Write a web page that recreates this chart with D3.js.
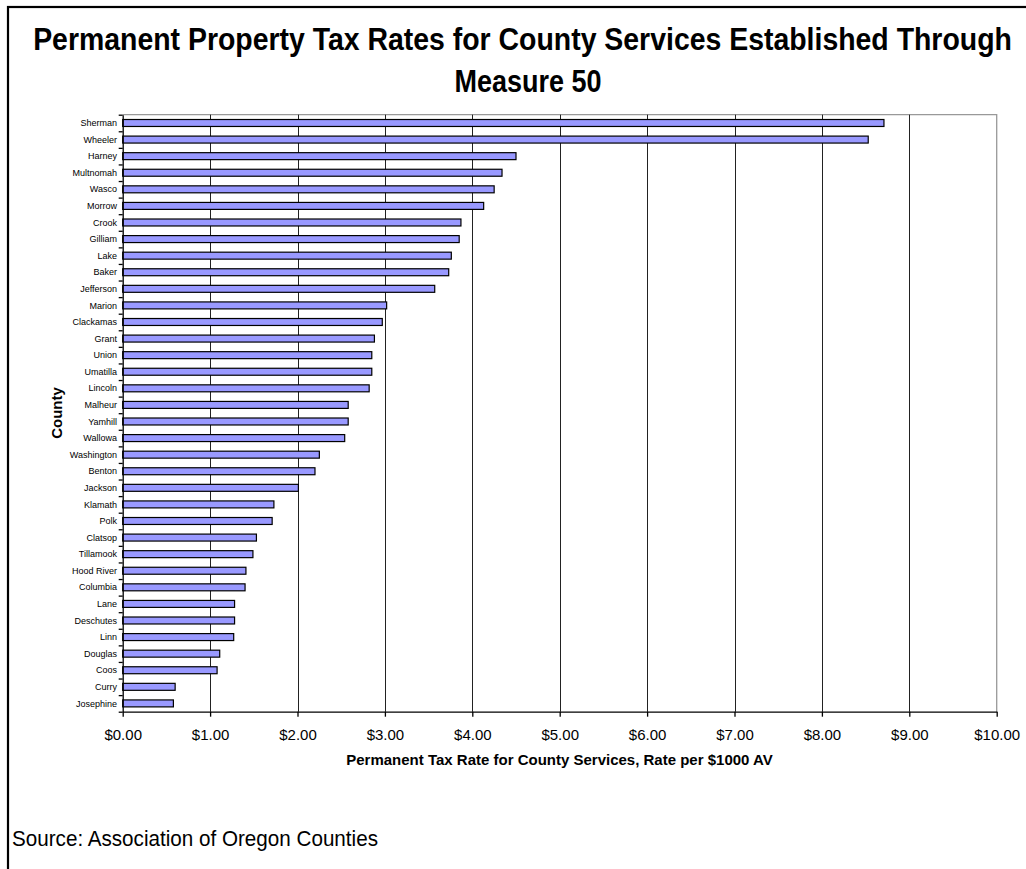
<!DOCTYPE html>
<html>
<head>
<meta charset="utf-8">
<script src="https://cdn.jsdelivr.net/npm/d3@7/dist/d3.min.js"></script>
<style>
  html, body { margin: 0; padding: 0; background: #fff; }
  svg { display: block; }
</style>
</head>
<body>
<svg id="chart" width="1026" height="869"></svg>
<script>
const counties = ["Sherman","Wheeler","Harney","Multnomah","Wasco","Morrow","Crook","Gilliam","Lake","Baker","Jefferson","Marion","Clackamas","Grant","Union","Umatilla","Lincoln","Malheur","Yamhill","Wallowa","Washington","Benton","Jackson","Klamath","Polk","Clatsop","Tillamook","Hood River","Columbia","Lane","Deschutes","Linn","Douglas","Coos","Curry","Josephine"];
const rates = [8.71,8.53,4.50,4.34,4.25,4.13,3.87,3.85,3.76,3.73,3.57,3.02,2.97,2.88,2.85,2.85,2.82,2.58,2.58,2.54,2.25,2.20,2.01,1.73,1.71,1.53,1.49,1.41,1.40,1.28,1.28,1.27,1.11,1.08,0.60,0.58];
const xTicks = [0,1,2,3,4,5,6,7,8,9,10];
const titleLines = ["Permanent Property Tax Rates for County Services Established Through","Measure 50"];
const xTitle = "Permanent Tax Rate for County Services, Rate per $1000 AV";
const yTitle = "County";
const sourceText = "Source: Association of Oregon Counties";

const svg = d3.select("#chart");
const font = "'Liberation Sans', Arial, sans-serif";
const L = 122.7, R = 996.7, T = 114.7, B = 711.7;

// draw text horizontally scaled to a target width (narrow-font look)
function fitText(cx, cy, anchor, str, size, weight, targetW) {
  const g = svg.append("g");
  const t = g.append("text").attr("x", 0).attr("y", 0).attr("text-anchor", anchor)
    .attr("font-family", font).attr("font-size", size).attr("font-weight", weight)
    .attr("fill", "#000").text(str);
  const w = t.node().getComputedTextLength();
  const s = targetW / w;
  g.attr("transform", `translate(${cx},${cy}) scale(${s},1)`);
  return t;
}

// outer frame
svg.append("rect").attr("x", 8).attr("y", 7).attr("width", 1040).attr("height", 900)
  .attr("fill", "none").attr("stroke", "#000").attr("stroke-width", 2.2);

const x = d3.scaleLinear().domain([0, 10]).range([L, R]);
const y = d3.scaleBand().domain(counties).range([T, B]).paddingInner(0.58).paddingOuter(0.29);
const yEdges = d3.scaleLinear().domain([0, counties.length]).range([T, B]);

// plot border (gray top/right)
svg.append("path").attr("d", `M${L},${T}H${R}V${B}`).attr("fill", "none")
  .attr("stroke", "#999").attr("stroke-width", 1.3);

// gridlines
svg.append("g").selectAll("line").data(xTicks.filter(d => d > 0 && d < 10)).join("line")
  .attr("x1", d => Math.round(x(d)) + 0.5).attr("x2", d => Math.round(x(d)) + 0.5)
  .attr("y1", T).attr("y2", B).attr("stroke", "#222").attr("stroke-width", 1);

// bars
svg.append("g").selectAll("rect").data(counties).join("rect")
  .attr("x", x(0)).attr("y", d => y(d))
  .attr("width", (d, i) => x(rates[i]) - x(0)).attr("height", y.bandwidth())
  .attr("fill", "#9999FF").attr("stroke", "#000").attr("stroke-width", 1.2);

// y axis (category boundary ticks)
const yAx = svg.append("g").attr("transform", `translate(${L},0)`)
  .call(d3.axisLeft(yEdges).tickValues(d3.range(counties.length + 1)).tickFormat("").tickSize(4).tickSizeOuter(0));
yAx.selectAll("path, line").attr("stroke", "#000").attr("stroke-width", 1.3);

// county labels
svg.append("g").selectAll("text").data(counties).join("text")
  .attr("x", 117).attr("y", d => y(d) + y.bandwidth() / 2)
  .attr("dy", "0.35em").attr("text-anchor", "end")
  .attr("font-family", font).attr("font-size", 9).attr("fill", "#000")
  .text(d => d);

// x axis
const xAx = svg.append("g").attr("transform", `translate(0,${B})`)
  .call(d3.axisBottom(x).tickValues(xTicks).tickFormat(d => "$" + d3.format(".2f")(d)).tickSize(5).tickSizeOuter(0).tickPadding(13));
xAx.selectAll("path, line").attr("stroke", "#000").attr("stroke-width", 1.3);
xAx.selectAll("text").attr("font-family", font).attr("font-size", 15).attr("fill", "#000");

// x title
fitText(559.5, 765, "middle", xTitle, 14, "bold", 427);

// y title
svg.append("text").attr("transform", "translate(62,413) rotate(-90)").attr("text-anchor", "middle")
  .attr("font-family", font).attr("font-size", 15).attr("font-weight", "bold").text(yTitle);

// title
fitText(522.5, 50, "middle", titleLines[0], 31, "bold", 979);
fitText(528, 92, "middle", titleLines[1], 31, "bold", 147);

// source
fitText(12, 846, "start", sourceText, 22, "normal", 366);
</script>
</body>
</html>
